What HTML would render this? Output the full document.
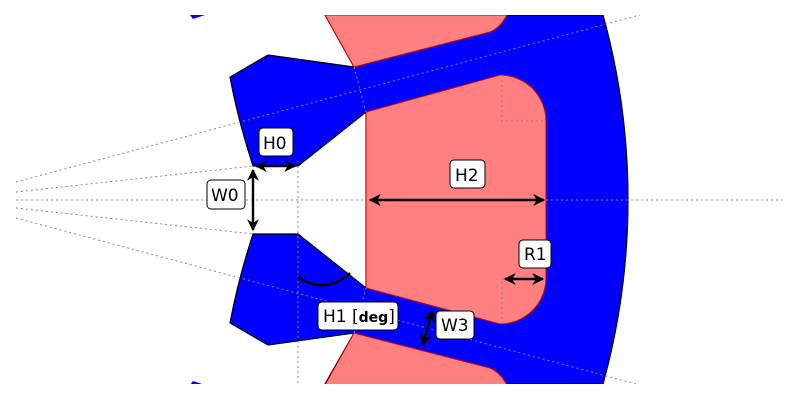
<!DOCTYPE html>
<html><head><style>
html,body{margin:0;padding:0;background:#fff;}
svg{display:block;}
text{font-family:"DejaVu Sans","Liberation Sans",sans-serif;font-size:17px;}
</style></head><body>
<svg width="800" height="400" viewBox="0 0 800 400">
<defs>
<clipPath id="c"><rect x="0" y="15" width="800" height="369"/></clipPath>
<marker id="a" viewBox="0 0 10 10" refX="9" refY="5" markerWidth="5" markerHeight="5" orient="auto-start-reverse"><path d="M0,0 L10,5 L0,10 L3,5 Z" fill="#000"/></marker>
</defs>
<g clip-path="url(#c)">
<path d="M253,166 L298,166 L366,112 L366,288 L298,234 L253,234 Q238,280 230,323 L268,345 L354,333 L325,384 L603,384 A693,693 0 0 0 603,15 L325,15 L354,67 L268,55 L230,77 Q238,120 253,166 Z" fill="#0000ff" stroke="#000" stroke-width="1.2"/>
<path d="M325,15 L354,67 L490,32 Q500,28 507,15 Z" fill="#ff8080" stroke="#c00" stroke-width="1"/>
<path d="M325,385 L354,333 L490,368 Q500,372 507,385 Z" fill="#ff8080" stroke="#c00" stroke-width="1"/>
<path d="M366,112 L500,75 A46,46 0 0 1 546,121 L546,279 A46,46 0 0 1 500,324 L366,288 Z" fill="#ff8080" stroke="#c00" stroke-width="1"/>
<polygon points="190,15 205,15 193,19" fill="#0000ff"/>
<polygon points="190,385 205,385 193,381" fill="#0000ff"/>
<g stroke="#888" stroke-width="1" stroke-dasharray="2,3" fill="none">
<line x1="16" y1="200" x2="785" y2="200"/>
<line x1="16" y1="182" x2="640" y2="15"/>
<line x1="16" y1="218" x2="640" y2="385"/>
<line x1="16" y1="192" x2="253" y2="166"/>
<line x1="16" y1="208" x2="253" y2="234"/>
<line x1="298" y1="166" x2="298" y2="384"/>
<line x1="354" y1="67" x2="366" y2="112"/>
<line x1="354" y1="333" x2="366" y2="288"/>
<polyline points="502,75 502,121 546,121"/>
<polyline points="502,324 502,279 546,279"/>
</g>
</g>
<g stroke="#000" stroke-width="2.4" fill="none">
<line x1="256" y1="166" x2="295" y2="166" marker-start="url(#a)" marker-end="url(#a)"/>
<line x1="253" y1="170" x2="253" y2="230" marker-start="url(#a)" marker-end="url(#a)"/>
<line x1="370" y1="200" x2="544" y2="200" marker-start="url(#a)" marker-end="url(#a)"/>
<line x1="505" y1="279" x2="543" y2="279" marker-start="url(#a)" marker-end="url(#a)"/>
<line x1="432" y1="311" x2="423" y2="345" marker-start="url(#a)" marker-end="url(#a)"/>
<path d="M298,277 Q325,295 350,273"/>
</g>
<g stroke="#000" stroke-width="1" fill="#fff">
<rect x="259" y="128" width="34" height="28" rx="4"/>
<rect x="207" y="180" width="38" height="29" rx="4"/>
<rect x="450" y="160" width="35" height="28" rx="4"/>
<rect x="519" y="240" width="32" height="28" rx="4"/>
<rect x="436" y="311" width="38" height="28" rx="4"/>
<rect x="318" y="302" width="80" height="28" rx="4"/>
</g>
<g fill="#000">
<text x="263" y="149">H0</text>
<text x="211" y="201">W0</text>
<text x="455" y="181">H2</text>
<text x="524" y="260">R1</text>
<text x="441" y="331">W3</text>
<text x="323" y="322">H1 [<tspan font-weight="bold" font-size="14">deg</tspan>]</text>
</g>
</svg>
</body></html>
